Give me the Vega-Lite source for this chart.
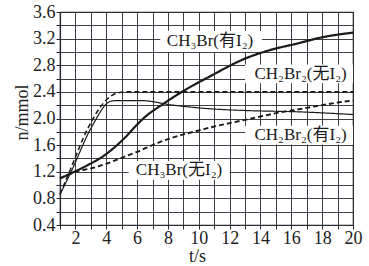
{
  "$schema": "https://vega.github.io/schema/vega-lite/v6.json",
  "width": 293,
  "height": 213,
  "autosize": "none",
  "padding": {"left": 60, "top": 12, "right": 16, "bottom": 41},
  "background": "white",
  "config": {
    "view": {"stroke": "#2a2a33", "strokeWidth": 1.2},
    "axis": {
      "labelFont": "Times New Roman, Liberation Serif, DejaVu Serif, serif",
      "labelFontSize": 18,
      "labelColor": "#222222",
      "titleFont": "Times New Roman, Liberation Serif, DejaVu Serif, serif",
      "titleFontSize": 18,
      "titleFontWeight": "normal",
      "titleColor": "#222222",
      "grid": true,
      "gridColor": "#2a2a33",
      "gridWidth": 1,
      "gridOpacity": 0.9,
      "domainColor": "#2a2a33",
      "domainWidth": 1.2,
      "tickColor": "#2a2a33",
      "tickSize": 4,
      "tickWidth": 1,
      "labelOverlap": false,
      "labelFlush": false,
      "tickCount": 40
    }
  },
  "datasets": {
    "curves": [
      {"s": "CH3Br有I2", "t": 1, "n": 1.10},
      {"s": "CH3Br有I2", "t": 1.75, "n": 1.18},
      {"s": "CH3Br有I2", "t": 2.8, "n": 1.30},
      {"s": "CH3Br有I2", "t": 3.9, "n": 1.45},
      {"s": "CH3Br有I2", "t": 4.55, "n": 1.57},
      {"s": "CH3Br有I2", "t": 5.2, "n": 1.71},
      {"s": "CH3Br有I2", "t": 5.8, "n": 1.86},
      {"s": "CH3Br有I2", "t": 6.5, "n": 2.02},
      {"s": "CH3Br有I2", "t": 7.7, "n": 2.22},
      {"s": "CH3Br有I2", "t": 8.9, "n": 2.40},
      {"s": "CH3Br有I2", "t": 10.7, "n": 2.63},
      {"s": "CH3Br有I2", "t": 13, "n": 2.90},
      {"s": "CH3Br有I2", "t": 14.5, "n": 3.02},
      {"s": "CH3Br有I2", "t": 16.45, "n": 3.13},
      {"s": "CH3Br有I2", "t": 18, "n": 3.22},
      {"s": "CH3Br有I2", "t": 20, "n": 3.29},
      {"s": "CH3Br无I2", "t": 1, "n": 1.10},
      {"s": "CH3Br无I2", "t": 2, "n": 1.20},
      {"s": "CH3Br无I2", "t": 3, "n": 1.25},
      {"s": "CH3Br无I2", "t": 4, "n": 1.32},
      {"s": "CH3Br无I2", "t": 5, "n": 1.41},
      {"s": "CH3Br无I2", "t": 6, "n": 1.50},
      {"s": "CH3Br无I2", "t": 7, "n": 1.60},
      {"s": "CH3Br无I2", "t": 8, "n": 1.69},
      {"s": "CH3Br无I2", "t": 9, "n": 1.76},
      {"s": "CH3Br无I2", "t": 10, "n": 1.82},
      {"s": "CH3Br无I2", "t": 11, "n": 1.88},
      {"s": "CH3Br无I2", "t": 12, "n": 1.93},
      {"s": "CH3Br无I2", "t": 13, "n": 1.98},
      {"s": "CH3Br无I2", "t": 14, "n": 2.03},
      {"s": "CH3Br无I2", "t": 15, "n": 2.08},
      {"s": "CH3Br无I2", "t": 16, "n": 2.12},
      {"s": "CH3Br无I2", "t": 17, "n": 2.16},
      {"s": "CH3Br无I2", "t": 18, "n": 2.20},
      {"s": "CH3Br无I2", "t": 19, "n": 2.24},
      {"s": "CH3Br无I2", "t": 20, "n": 2.27},
      {"s": "CH2Br2无I2", "t": 1, "n": 0.86},
      {"s": "CH2Br2无I2", "t": 1.7, "n": 1.25},
      {"s": "CH2Br2无I2", "t": 2.8, "n": 1.85},
      {"s": "CH2Br2无I2", "t": 4.1, "n": 2.30},
      {"s": "CH2Br2无I2", "t": 4.65, "n": 2.38},
      {"s": "CH2Br2无I2", "t": 5.3, "n": 2.40},
      {"s": "CH2Br2无I2", "t": 20, "n": 2.40},
      {"s": "CH2Br2有I2", "t": 1, "n": 0.86},
      {"s": "CH2Br2有I2", "t": 1.7, "n": 1.19},
      {"s": "CH2Br2有I2", "t": 3.0, "n": 1.85},
      {"s": "CH2Br2有I2", "t": 4.3, "n": 2.26},
      {"s": "CH2Br2有I2", "t": 4.7, "n": 2.27},
      {"s": "CH2Br2有I2", "t": 6.2, "n": 2.27},
      {"s": "CH2Br2有I2", "t": 8.35, "n": 2.20},
      {"s": "CH2Br2有I2", "t": 10.5, "n": 2.15},
      {"s": "CH2Br2有I2", "t": 13, "n": 2.12},
      {"s": "CH2Br2有I2", "t": 16.5, "n": 2.10},
      {"s": "CH2Br2有I2", "t": 20, "n": 2.06}
    ],
    "labels": [
      {"text": "CH₃Br(有I₂)", "t": 10.73, "n": 3.16, "t1": 7.5, "t2": 14.1, "n1": 3.0, "n2": 3.32},
      {"text": "CH₂Br₂(无I₂)", "t": 16.6, "n": 2.67, "t1": 13.0, "t2": 20.0, "n1": 2.53, "n2": 2.81},
      {"text": "CH₂Br₂(有I₂)", "t": 16.6, "n": 1.75, "t1": 13.0, "t2": 20.0, "n1": 1.61, "n2": 1.89},
      {"text": "CH₃Br(无I₂)", "t": 8.72, "n": 1.22, "t1": 5.45, "t2": 12.0, "n1": 1.08, "n2": 1.36}
    ]
  },
  "layer": [
    {
      "data": {"name": "labels"},
      "mark": {"type": "rect", "fill": "white", "strokeWidth": 0},
      "encoding": {
        "x": {"field": "t1", "type": "quantitative"},
        "x2": {"field": "t2"},
        "y": {"field": "n1", "type": "quantitative"},
        "y2": {"field": "n2"}
      }
    },
    {
      "data": {"name": "curves"},
      "mark": {"type": "line", "interpolate": "monotone", "color": "#1a1a1a"},
      "encoding": {
        "x": {"field": "t", "type": "quantitative", "scale": {"domain": [1, 20], "nice": false, "zero": false},
          "axis": {
            "values": [1,2,3,4,5,6,7,8,9,10,11,12,13,14,15,16,17,18,19,20],
            "tickCount": 40,
            "labelExpr": "datum.value % 2 == 0 ? format(datum.value, 'd') : ''",
            "labelPadding": 0,
            "title": "t/s",
            "titleX": 137,
            "titleY": 22,
            "titleAlign": "center",
            "titleBaseline": "top"
          }},
        "y": {"field": "n", "type": "quantitative", "scale": {"domain": [0.4, 3.6], "nice": false, "zero": false},
          "axis": {
            "values": [0.4,0.6,0.8,1.0,1.2,1.4,1.6,1.8,2.0,2.2,2.4,2.6,2.8,3.0,3.2,3.4,3.6],
            "tickCount": 40,
            "labelExpr": "(round(datum.value*10) % 4 == 0) ? format(datum.value, '.1f') : ''",
            "labelPadding": 1,
            "title": "n/mmol",
            "titleX": -38,
            "titleY": 100,
            "titleAngle": -90,
            "titleAlign": "center",
            "titleBaseline": "middle"
          }},
        "detail": {"field": "s"},
        "strokeWidth": {"field": "s", "type": "nominal", "legend": null,
          "scale": {"domain": ["CH3Br有I2", "CH3Br无I2", "CH2Br2无I2", "CH2Br2有I2"], "range": [2.2, 1.2, 1.3, 1.2]}},
        "strokeDash": {"field": "s", "type": "nominal", "legend": null,
          "scale": {"domain": ["CH3Br有I2", "CH3Br无I2", "CH2Br2无I2", "CH2Br2有I2"], "range": [[1, 0], [5, 3], [5, 3], [1, 0]]}}
      }
    },
    {
      "data": {"name": "labels"},
      "mark": {"type": "text", "font": "Times New Roman, Liberation Serif, DejaVu Serif, Noto Sans CJK SC", "fontSize": 17, "color": "#1a1a1a", "align": "center", "baseline": "middle"},
      "encoding": {
        "x": {"field": "t", "type": "quantitative"},
        "y": {"field": "n", "type": "quantitative"},
        "text": {"field": "text"}
      }
    }
  ]
}
